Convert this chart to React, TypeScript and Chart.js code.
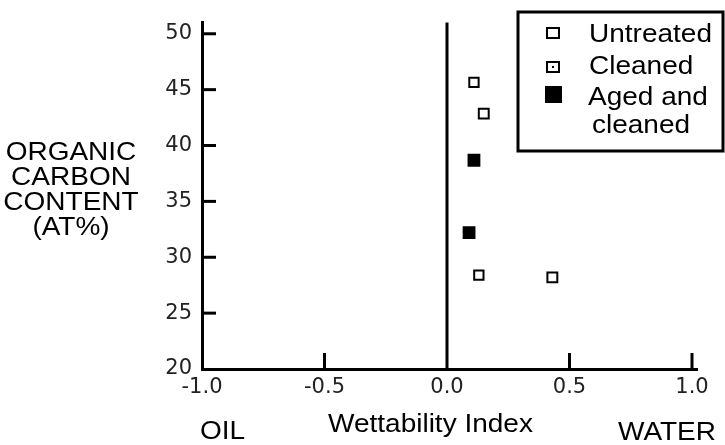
import React, { useEffect, useRef } from "react";
import { Chart, registerables } from "chart.js";

Chart.register(...registerables);

// ---- data ----
const untreatedX = [0.11, 0.13];
const untreatedY = [45.65, 28.4];
const cleanedX = [0.15, 0.43];
const cleanedY = [42.85, 28.2];
const agedX = [0.11, 0.09];
const agedY = [38.68, 32.2];

const legendLabels = ["Untreated", "Cleaned", "Aged and", "cleaned"];
const yTitleLines = ["ORGANIC", "CARBON", "CONTENT", "(AT%)"];
const xTitle = "Wettability Index";
const xLeftLabel = "OIL";
const xRightLabel = "WATER";

const X_MIN = -1;
const X_MAX = 1.0204;
const Y_MIN = 20;
const Y_MAX = 51;

const toPts = (xs: number[], ys: number[]) => xs.map((x, i) => ({ x, y: ys[i] }));

const BIG_FONT = '25px "Liberation Sans", Arial, Helvetica, sans-serif';
const HSCALE = 1.12;

function stretchText(ctx: CanvasRenderingContext2D, text: string, x: number, y: number, align: CanvasTextAlign) {
  ctx.save();
  ctx.translate(x, y);
  ctx.scale(HSCALE, 1);
  ctx.textAlign = align;
  ctx.textBaseline = "alphabetic";
  ctx.fillText(text, 0, 0);
  ctx.restore();
}

const decorPlugin = {
  id: "figureDecor",
  beforeDatasetsDraw(chart: any) {
    const ctx: CanvasRenderingContext2D = chart.ctx;
    const { left, top, bottom } = chart.chartArea;
    const xs = chart.scales.x;
    const ys = chart.scales.y;
    ctx.save();
    ctx.strokeStyle = "#000";
    ctx.lineCap = "butt";
    // vertical line at zero
    ctx.lineWidth = 3;
    const x0 = xs.getPixelForValue(0);
    ctx.beginPath();
    ctx.moveTo(x0, top);
    ctx.lineTo(x0, bottom);
    ctx.stroke();
    // inward ticks
    ctx.lineWidth = 3;
    const TICK = 14;
    ys.ticks.forEach((t: any) => {
      if (t.value === Y_MIN) return;
      const py = ys.getPixelForValue(t.value);
      ctx.beginPath();
      ctx.moveTo(left, py);
      ctx.lineTo(left + TICK, py);
      ctx.stroke();
    });
    xs.ticks.forEach((t: any) => {
      if (t.value === X_MIN || t.value === 0) return;
      const px = xs.getPixelForValue(t.value);
      ctx.beginPath();
      ctx.moveTo(px, bottom);
      ctx.lineTo(px, bottom - 16);
      ctx.stroke();
    });
    ctx.restore();
  },
  afterDraw(chart: any) {
    const ctx: CanvasRenderingContext2D = chart.ctx;
    ctx.save();
    ctx.fillStyle = "#000";
    ctx.font = BIG_FONT;
    // y title (horizontal, multi-line)
    const yBase = [160, 185, 210, 235];
    yTitleLines.forEach((s, i) => stretchText(ctx, s, 71, yBase[i], "center"));
    // x axis texts
    stretchText(ctx, xLeftLabel, 200, 439, "left");
    stretchText(ctx, xTitle, 328, 432, "left");
    stretchText(ctx, xRightLabel, 618, 440, "left");

    // legend box
    ctx.strokeStyle = "#000";
    ctx.lineWidth = 3;
    ctx.strokeRect(518, 12, 205, 139);
    // legend markers
    ctx.lineWidth = 2;
    ctx.strokeRect(547, 28, 12, 10);
    ctx.strokeRect(547, 62, 12, 10);
    ctx.fillRect(552, 66, 2, 2);
    ctx.fillRect(545, 86, 17, 17);
    // legend labels
    const lx = [589, 589, 588, 592];
    const lb = [42, 74, 105, 133];
    legendLabels.forEach((s, i) => stretchText(ctx, s, lx[i], lb[i], "left"));
    ctx.restore();
  },
};

export default function App() {
  const ref = useRef<HTMLCanvasElement>(null);
  useEffect(() => {
    const canvas = ref.current;
    if (!canvas) return;
    const tickFont = { family: '"DejaVu Sans", sans-serif', size: 21 };
    const chart = new Chart(canvas, {
      type: "scatter",
      data: {
        datasets: [
          {
            label: "Untreated",
            data: toPts(untreatedX, untreatedY),
            pointStyle: "rect",
            radius: 6.6,
            borderWidth: 2,
            borderColor: "#000",
            backgroundColor: "#fff",
          },
          {
            label: "Cleaned",
            data: toPts(cleanedX, cleanedY),
            pointStyle: "rect",
            radius: 7,
            borderWidth: 2,
            borderColor: "#000",
            backgroundColor: "#fff",
          },
          {
            label: "Cleaned (centre dot)",
            data: toPts(cleanedX, cleanedY),
            pointStyle: "rect",
            radius: 1.5,
            borderWidth: 0,
            backgroundColor: "#000",
          },
          {
            label: "Aged and cleaned",
            data: toPts(agedX, agedY),
            pointStyle: "rect",
            radius: 8,
            borderWidth: 1.5,
            borderColor: "#000",
            backgroundColor: "#000",
          },
        ],
      },
      options: {
        responsive: false,
        animation: false,
        devicePixelRatio: 1,
        events: [],
        layout: { padding: { left: 0, right: 28, top: 22, bottom: 0 } },
        plugins: {
          legend: { display: false },
          tooltip: { enabled: false },
          title: { display: false },
        },
        scales: {
          x: {
            type: "linear",
            min: X_MIN,
            max: X_MAX,
            afterFit: (s: any) => {
              s.height = 76;
            },
            ticks: {
              stepSize: 0.5,
              includeBounds: false,
              autoSkip: false,
              maxRotation: 0,
              padding: 6,
              color: "#222",
              font: tickFont,
              callback: (v: any) => Number(v).toFixed(1),
            },
            grid: { display: true, drawOnChartArea: false, drawTicks: false },
            border: { display: true, width: 3, color: "#000" },
          },
          y: {
            type: "linear",
            min: Y_MIN,
            max: Y_MAX,
            afterFit: (s: any) => {
              s.width = 202;
            },
            ticks: {
              stepSize: 5,
              includeBounds: false,
              autoSkip: false,
              padding: 10,
              color: "#222",
              font: tickFont,
              callback: (v: any) => String(v),
            },
            grid: { display: true, drawOnChartArea: false, drawTicks: false },
            border: { display: true, width: 3, color: "#000" },
          },
        },
      },
      plugins: [decorPlugin],
    });
    return () => chart.destroy();
  }, []);
  return (
    <div style={{ position: "absolute", left: 0, top: 0, width: 725, height: 445, background: "#fff" }}>
      <canvas ref={ref} width={725} height={445} style={{ display: "block" }} />
    </div>
  );
}
